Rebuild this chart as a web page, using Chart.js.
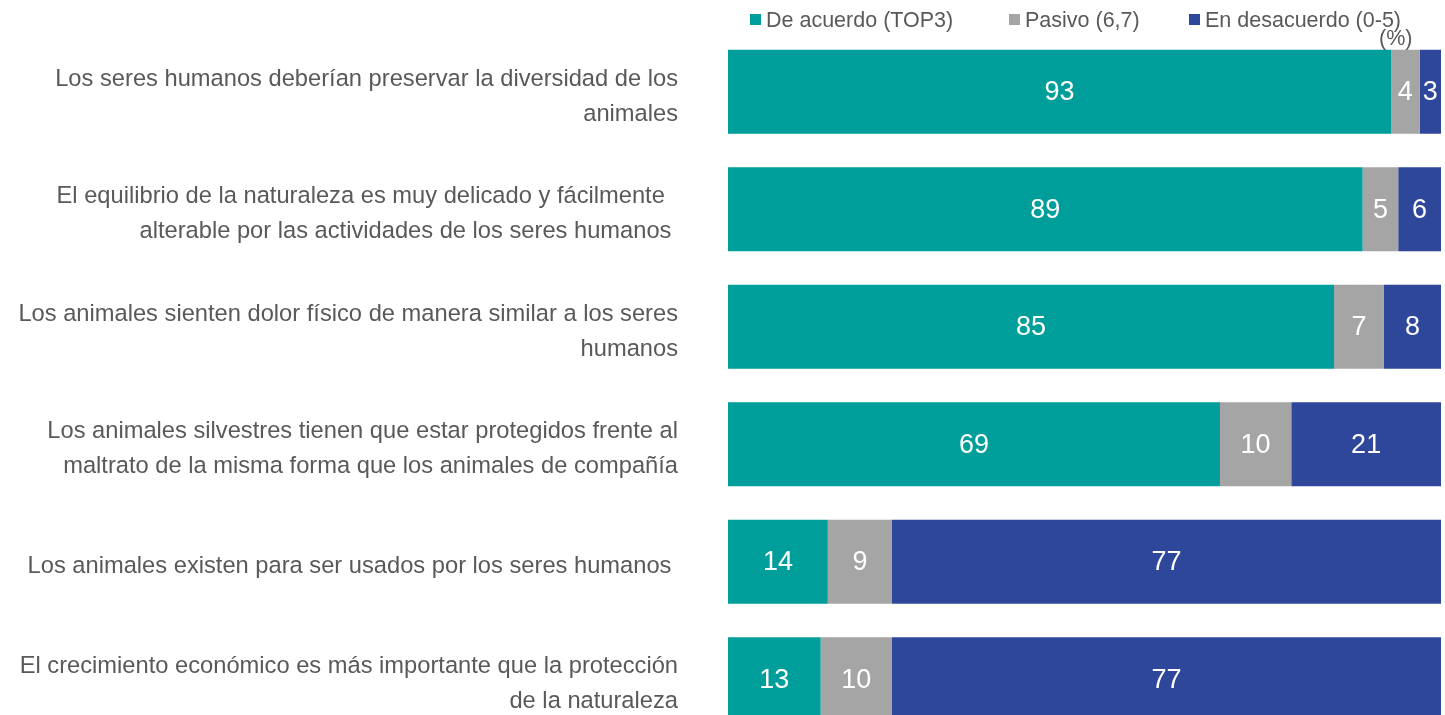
<!DOCTYPE html>
<html>
<head>
<meta charset="utf-8">
<script src="https://cdn.jsdelivr.net/npm/chart.js@4"></script>
<style>
  html, body { margin: 0; padding: 0; background: #fff; overflow: hidden; }
  #wrap { width: 1445px; height: 738px; }
</style>
</head>
<body>
<div id="wrap"><canvas id="actitudChart" width="1445" height="738"></canvas></div>
<script>
const categories = [
  ["Los seres humanos deberían preservar la diversidad de los", "animales"],
  ["El equilibrio de la naturaleza es muy delicado y fácilmente  ", "alterable por las actividades de los seres humanos "],
  ["Los animales sienten dolor físico de manera similar a los seres", "humanos"],
  ["Los animales silvestres tienen que estar protegidos frente al", "maltrato de la misma forma que los animales de compañía"],
  "Los animales existen para ser usados por los seres humanos ",
  ["El crecimiento económico es más importante que la protección", "de la naturaleza"]
];
const deAcuerdo = [93, 89, 85, 69, 14, 13];
const pasivo = [4, 5, 7, 10, 9, 10];
const enDesacuerdo = [3, 6, 8, 21, 77, 77];

const FONT = '"Liberation Sans", Arial, sans-serif';

document.addEventListener("DOMContentLoaded", function () {
  const ctx = document.getElementById("actitudChart");

  // legend + unit note at the top right
  const topLegend = {
    id: "topLegend",
    afterDraw(chart) {
      const c = chart.ctx;
      const boxX = [750, 1009, 1189];
      c.save();
      c.font = "21.5px " + FONT;
      c.textBaseline = "middle";
      c.textAlign = "left";
      chart.data.datasets.forEach((ds, i) => {
        c.fillStyle = ds.backgroundColor;
        c.fillRect(boxX[i], 14, 11, 11);
        c.fillStyle = "#595959";
        c.fillText(ds.label, boxX[i] + 16, 21);
      });
      c.fillText("(%)", 1379, 39);
      c.restore();
    }
  };

  // white values inside every segment
  const barValues = {
    id: "barValues",
    afterDatasetsDraw(chart) {
      const c = chart.ctx;
      c.save();
      c.font = "27px " + FONT;
      c.fillStyle = "#ffffff";
      c.textAlign = "center";
      c.textBaseline = "middle";
      chart.data.datasets.forEach((ds, i) => {
        chart.getDatasetMeta(i).data.forEach((bar, j) => {
          const p = bar.getCenterPoint();
          c.fillText(ds.data[j], p.x, p.y + 1);
        });
      });
      c.restore();
    }
  };

  new Chart(ctx, {
    type: "bar",
    data: {
      labels: categories,
      datasets: [
        { label: "De acuerdo (TOP3)", data: deAcuerdo, backgroundColor: "#009E9A" },
        { label: "Pasivo (6,7)", data: pasivo, backgroundColor: "#A5A5A5" },
        { label: "En desacuerdo (0-5)", data: enDesacuerdo, backgroundColor: "#2E479B" }
      ]
    },
    options: {
      indexAxis: "y",
      responsive: false,
      animation: false,
      barPercentage: 0.715,
      categoryPercentage: 1,
      layout: { padding: { top: 33, right: 4, bottom: 0, left: 0 } },
      plugins: {
        legend: { display: false },
        tooltip: { enabled: false }
      },
      scales: {
        x: {
          stacked: true,
          min: 0,
          max: 100,
          display: false
        },
        y: {
          stacked: true,
          grid: { display: false },
          border: { display: false },
          afterFit(axis) {
            axis.width = 728;
            axis.paddingTop = 0;
            axis.paddingBottom = 0;
          },
          ticks: {
            padding: 42,
            labelOffset: 5,
            color: "#595959",
            font: { family: FONT, size: 23.7, lineHeight: 1.48 }
          }
        }
      }
    },
    plugins: [topLegend, barValues]
  });
});
</script>
</body>
</html>
